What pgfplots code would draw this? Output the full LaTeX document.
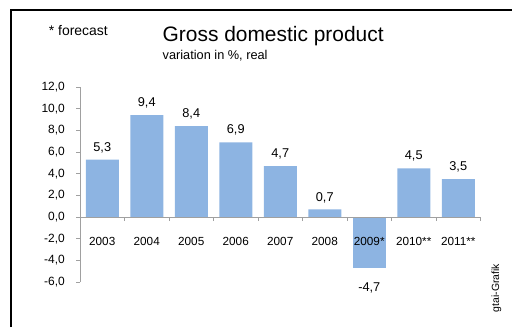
\documentclass[border=0pt]{standalone}
\usepackage{pgfplots}
\pgfplotsset{compat=1.18}
\usepackage{fontspec}
\setmainfont{Liberation Sans}
\definecolor{barblue}{RGB}{141,180,226}
\definecolor{axgray}{RGB}{160,160,160}
\begin{document}
\begin{tikzpicture}[x=1bp,y=1bp]
\path[use as bounding box] (0,0) rectangle (512,327);
\clip (0,0) rectangle (512,327);
\draw[line width=1.4bp] (11,0) -- (11,317) -- (512,317);
\node[anchor=base west, inner sep=0pt, font=\fontsize{14}{16}\selectfont] at (48.7,291.7) {* forecast};
\node[anchor=base west, inner sep=0pt, font=\fontsize{21}{24}\selectfont] at (162.5,285.5) {Gross domestic product};
\node[anchor=base west, inner sep=0pt, font=\fontsize{12.8}{15}\selectfont] at (162.5,267.5) {variation in \%, real};
\node[rotate=90, inner sep=0pt, font=\fontsize{10.5}{12}\selectfont] at (496.5,39) {gtai-Grafik};
\begin{axis}[
  at={(80bp,45bp)}, anchor=south west,
  scale only axis, width=400.5bp, height=195bp,
  xmin=-0.5, xmax=8.5, ymin=-6, ymax=12,
  axis on top,
  axis x line*=middle, axis y line*=left,
  axis line style={axgray, line width=0.8bp},
  tick style={axgray, line width=0.8bp},
  tick align=outside,
  xtick={0,...,8},
  xticklabels={2003,2004,2005,2006,2007,2008,2009*,2010**,2011**},
  major x tick style={draw=none},
  minor xtick={-0.5,0.5,1.5,2.5,3.5,4.5,5.5,6.5,7.5,8.5},
  minor tick length=4bp,
  major tick length=4bp,
  ytick={-6,-4,...,12},
  /pgf/number format/.cd, fixed, fixed zerofill, precision=1, use comma, assume math mode=true,
  /pgfplots/.cd,
  xticklabel style={font=\fontsize{11.8}{13}\selectfont, anchor=north, yshift=-13bp},
  yticklabel style={font=\fontsize{12}{14}\selectfont, anchor=east, inner sep=0pt, xshift=-11bp},
  nodes near coords,
  every node near coord/.append style={font=\fontsize{12.8}{14}\selectfont, text=black},
  clip=false,
]
\addplot[ybar, bar width=33bp, bar shift=0pt, fill=barblue, draw=none,
  every node near coord/.append style={inner sep=6.5bp}]
  coordinates {(0,5.3) (1,9.4) (2,8.4) (3,6.9) (4,4.7) (5,0.7) (7,4.5) (8,3.5)};
\addplot[ybar, bar width=33bp, bar shift=0pt, fill=barblue, draw=none,
  every node near coord/.append style={inner sep=15bp}]
  coordinates {(6,-4.7)};
\end{axis}
\end{tikzpicture}
\end{document}
